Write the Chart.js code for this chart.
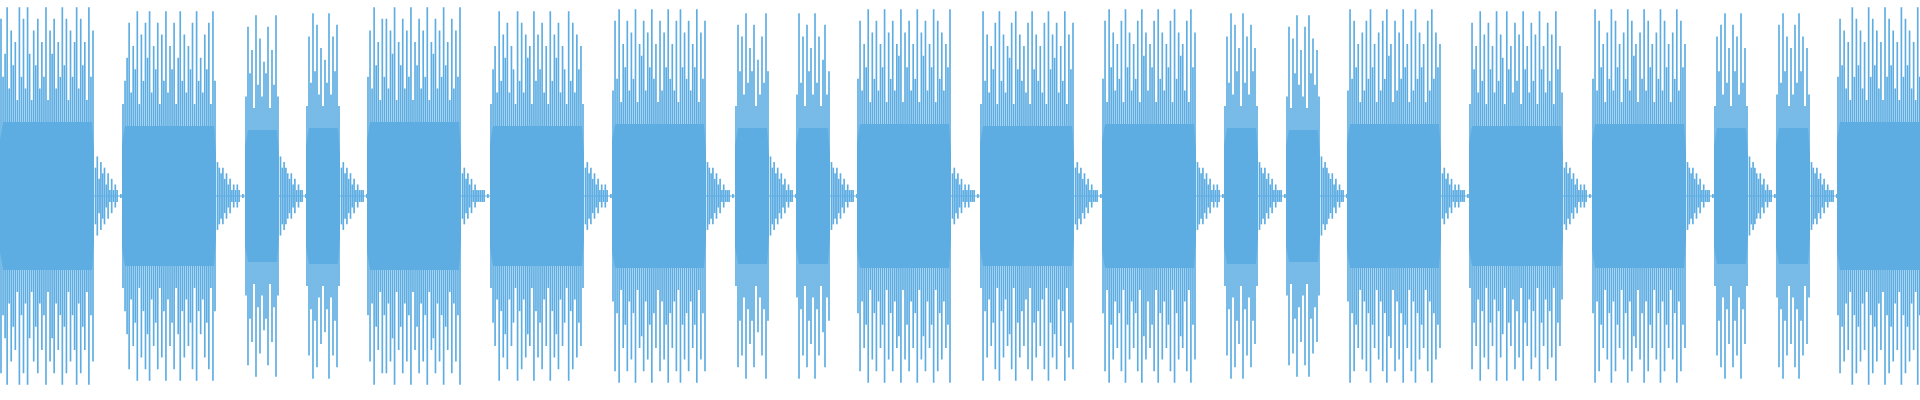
<!DOCTYPE html>
<html><head><meta charset="utf-8">
<script src="https://cdn.jsdelivr.net/npm/chart.js@4"></script>
<style>html,body{margin:0;padding:0;background:#fff}canvas{display:block}</style>
</head><body><canvas id="c" width="1920" height="400"></canvas>
<script>
// burst start positions (px-time units) and kinds (L=long, S=short)
const burstStarts = [0,122,245,306,367,490,612,735,796,857,980,1102,1224,1286,1347,1469,1592,1714,1776,1837];
const burstKinds  = "LLSSLLLSSLLLSSLLLSSL";
const longLen = 94, shortLen = 34;
// spike heights per burst, one digit per spike (0..9)
const spikeLevels = [
 "8359274619382951748263917582639481736928461937",
 "1358264917385926481739264815937264819352748193",
 "28461937254816392",
 "17394826153927481",
 "3729461838275916482739164827391658273946182739",
 "1462937582641938275619374826193758264193827461",
 "2839164827391658274936182749362819473826491738",
 "18472936481527394",
 "29371846293715824",
 "3826491738264917382659174826391758264918372649",
 "1937264819372658194736281947362819475826391748",
 "3819472638194726381957264819372648193756281947",
 "17392846193728461",
 "28174936281947362",
 "2938461728394617283956182739461829374618293746",
 "1846293718462937519462837194628371946283719462",
 "3928461739284617392856173928461739284617392846",
 "17482936184729361",
 "28394716283947162",
 "3847261938472619384726193847261938472619384726"
];
// inner (dense) body amplitude per burst
const bodyLevels = [0.37,0.35,0.33,0.34,0.37,0.35,0.36,0.34,0.34,0.36,0.35,0.36,0.34,0.33,0.36,0.35,0.36,0.34,0.34,0.37];
// decaying tail after each burst, one digit per small spike
const tailLevels = [
 "5736452413121","6545342312121","7565434231211","5645342312111","4534231211111",
 "5645342312121","6545342312111","7564534231211","6545342312111","4534231212111",
 "5645342312111","6545342312121","6545342312111","7565434231211","4534231212111",
 "5645342312121","6545342312111","7565434231211","6545342312111",""
];

const spikes=[], tails=[], bodyTop=[], bodyBot=[];
burstStarts.forEach((s,i)=>{
  const len = burstKinds[i]==='L'?longLen:shortLen;
  const str = spikeLevels[i], n = str.length, b = bodyLevels[i];
  for(let k=0;k<n;k++){
    const a = b + 0.05 + (+str[k])*0.058;
    spikes.push({x: s + 1 + k*(len-2)/(n-1), y:[-a,a]});
  }
  const e = s+len;
  bodyTop.push({x:s,y:0},{x:s,y:b*0.75},{x:s+3,y:b},{x:e-2,y:b},{x:e,y:b*0.6},{x:e,y:0},{x:e,y:null});
  bodyBot.push({x:s,y:0},{x:s,y:-b*0.75},{x:s+3,y:-b},{x:e-2,y:-b},{x:e,y:-b*0.6},{x:e,y:0},{x:e,y:null});
  const t = tailLevels[i];
  for(let k=0;k<t.length;k++){
    const a=(+t[k])*0.028;
    tails.push({x:e+1.5+k*1.8,y:[-a,a]});
  }
  if(t.length) tails.push({x:e+1.5+t.length*1.8+2,y:[-0.008,0.008]});
});

const col='rgb(93,173,226)';
new Chart(document.getElementById('c'),{
  data:{datasets:[
    {type:'line',data:bodyTop,borderWidth:0,pointRadius:0,fill:'origin',backgroundColor:col,spanGaps:false,tension:0},
    {type:'line',data:bodyBot,borderWidth:0,pointRadius:0,fill:'origin',backgroundColor:col,spanGaps:false,tension:0},
    {type:'bar',data:spikes,backgroundColor:col,barThickness:1,grouped:false},
    {type:'bar',data:tails,backgroundColor:col,barThickness:1,grouped:false},
    {type:'line',data:[{x:0,y:0},{x:1920,y:0}],borderColor:col,borderWidth:1,pointRadius:0,fill:false}
  ]},
  options:{responsive:false,animation:false,
    layout:{padding:0},
    plugins:{legend:{display:false},tooltip:{enabled:false}},
    scales:{x:{type:'linear',min:0,max:1920,display:false,offset:false},
            y:{min:-1.02,max:0.98,display:false}}}
});
</script></body></html>
